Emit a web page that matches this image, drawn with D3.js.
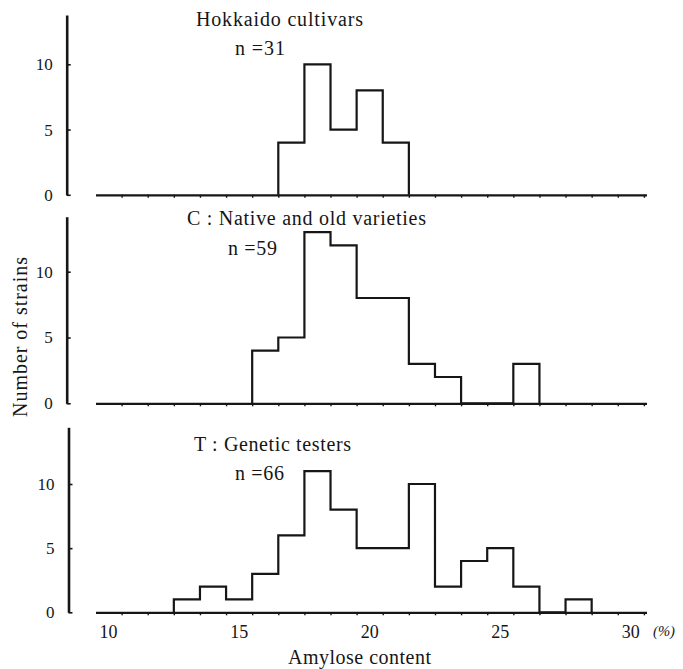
<!DOCTYPE html>
<html>
<head>
<meta charset="utf-8">
<script src="https://cdn.jsdelivr.net/npm/d3@7"></script>
<style>
  html, body { margin: 0; padding: 0; background: #fff; }
  svg { display: block; }
</style>
</head>
<body>
<svg id="chart" width="683" height="669"></svg>
<script>
// ---- Data ----
// Bin widths are 1 % amylose; bins start at x.5
const panelTitles = ["Hokkaido cultivars", "C : Native and old varieties", "T : Genetic testers"];
const panelN = ["n =31", "n =59", "n =66"];
const binStarts = [16.5, 15.5, 12.5];
const hokkaidoCounts = [4, 10, 5, 8, 4];
const nativeCounts = [4, 5, 13, 12, 8, 8, 3, 2, 0, 0, 3];
const testerCounts = [1, 2, 1, 3, 6, 11, 8, 5, 5, 10, 2, 4, 5, 2, 0, 1];
const xTickLabels = [10, 15, 20, 25, 30];
const xMinorTicks = d3.range(10.5, 30.51, 1);
const yTickLabels = [0, 5, 10];
const xAxisTitle = "Amylose content";
const yAxisTitle = "Number of strains";
const unitLabel = "(%)";

// ---- Layout ----
const FONT = '"Liberation Serif"';
const svg = d3.select("#chart");
const ink = "#161616";
const x = d3.scaleLinear().domain([9.5, 30.6]).range([95.5, 646.5]);

const panels = [
  { counts: hokkaidoCounts, start: binStarts[0], base: 194.8, y10: 64.3, top: 15,
    yAxisX: 66.7, title: { x: 196, y: 26, len: 167 }, n: { x: 235, y: 55, len: 50 } },
  { counts: nativeCounts, start: binStarts[1], base: 403.3, y10: 271.7, top: 216.7,
    yAxisX: 66.7, title: { x: 187, y: 225, len: 239 }, n: { x: 228, y: 255, len: 49 } },
  { counts: testerCounts, start: binStarts[2], base: 612.3, y10: 484, top: 427.3,
    yAxisX: 68.5, title: { x: 194, y: 451, len: 157 }, n: { x: 235, y: 480, len: 49 } }
];

panels.forEach((p, i) => {
  const ppu = (p.base - p.y10) / 10;
  const yMax = (p.base - p.top) / ppu;
  const y = d3.scaleLinear().domain([0, yMax]).range([p.base, p.top]);
  const g = svg.append("g");

  // y axis
  const yAxis = d3.axisLeft(y).tickValues(yTickLabels).tickSizeInner(-4).tickSizeOuter(0).tickPadding(14);
  const ya = g.append("g").attr("transform", `translate(${p.yAxisX},0)`).call(yAxis);
  ya.select(".domain").attr("stroke", ink).attr("stroke-width", 2.6);
  ya.selectAll(".tick line").attr("stroke", ink).attr("stroke-width", 1.6);
  ya.selectAll(".tick text").attr("fill", ink)
    .style("font-family", FONT).style("font-size", "17px");

  // x axis (baseline with small ticks at bin edges)
  const xAxis = d3.axisBottom(x).tickValues(xMinorTicks).tickSizeInner(3).tickSizeOuter(0).tickFormat("");
  const xa = g.append("g").attr("transform", `translate(0,${p.base})`).call(xAxis);
  xa.select(".domain").attr("stroke", ink).attr("stroke-width", 2.3);
  xa.selectAll(".tick line").attr("stroke", ink).attr("stroke-width", 1.4);

  // histogram outline
  const s = p.start, c = p.counts, n = c.length;
  const pts = [{ v: s, c: 0 }];
  c.forEach((d, k) => pts.push({ v: s + k, c: d }));
  pts.push({ v: s + n, c: c[n - 1] });
  pts.push({ v: s + n, c: 0 });
  const line = d3.line().x(d => x(d.v)).y(d => y(d.c)).curve(d3.curveStepAfter);
  g.append("path").datum(pts).attr("d", line)
    .attr("fill", "none").attr("stroke", ink).attr("stroke-width", 2.2).attr("stroke-linejoin", "miter");

  // titles
  g.append("text").attr("x", p.title.x).attr("y", p.title.y).attr("fill", ink)
    .style("font-family", FONT).style("font-size", "20px")
    .attr("textLength", p.title.len).attr("lengthAdjust", "spacing")
    .text(panelTitles[i]);
  g.append("text").attr("x", p.n.x).attr("y", p.n.y).attr("fill", ink)
    .style("font-family", FONT).style("font-size", "20px")
    .attr("textLength", p.n.len).attr("lengthAdjust", "spacing")
    .text(panelN[i]);
});

// x tick labels under bottom panel
svg.append("g").selectAll("text").data(xTickLabels).join("text")
  .attr("x", d => x(d)).attr("y", 638).attr("text-anchor", "middle").attr("fill", ink)
  .style("font-family", FONT).style("font-size", "18px").text(d => d);
svg.append("text").attr("x", 653).attr("y", 636).attr("fill", ink)
  .style("font-family", FONT).style("font-size", "15px").style("font-style", "italic")
  .attr("textLength", 22).attr("lengthAdjust", "spacingAndGlyphs")
  .text(unitLabel);

// axis titles
svg.append("text").attr("x", 359.5).attr("y", 664).attr("text-anchor", "middle").attr("fill", ink)
  .style("font-family", FONT).style("font-size", "20px")
  .attr("textLength", 143).attr("lengthAdjust", "spacing")
  .text(xAxisTitle);
svg.append("text").attr("transform", "translate(26.5,337) rotate(-90)").attr("text-anchor", "middle")
  .attr("fill", ink).style("font-family", FONT).style("font-size", "20px")
  .attr("textLength", 160).attr("lengthAdjust", "spacing")
  .text(yAxisTitle);
</script>
</body>
</html>
